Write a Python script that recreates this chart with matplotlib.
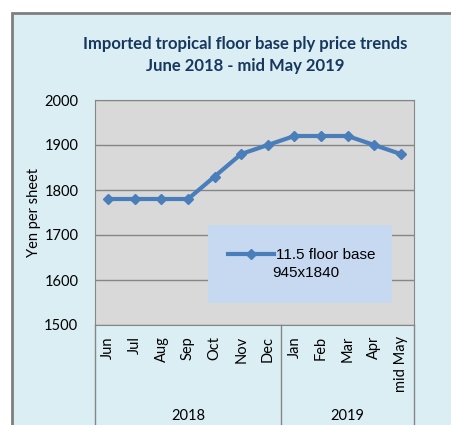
import matplotlib
matplotlib.use("Agg")
from matplotlib import pyplot as plt
from matplotlib.patches import Rectangle
from matplotlib.transforms import blended_transform_factory

plt.rcParams["font.family"] = "Lato"

months = ["Jun", "Jul", "Aug", "Sep", "Oct", "Nov", "Dec",
          "Jan", "Feb", "Mar", "Apr", "mid May"]
years = ["2018", "2019"]
year_groups = [(0, 6), (7, 11)]
prices = [1780, 1780, 1780, 1780, 1830, 1880, 1900, 1920, 1920, 1920, 1900, 1880]

W, H = 451, 425
fig = plt.figure(figsize=(W / 100, H / 100), dpi=100)
fig.patch.set_facecolor("white")

# chart area background + border (runs off the right and bottom edges)
fig.patches.append(Rectangle((12 / W, -0.2), 1.2, 1.2 - 13 / H,
                             transform=fig.transFigure, facecolor="#DAEEF3",
                             edgecolor="#7F7F7F", linewidth=2, zorder=-1))

ax = fig.add_axes([95 / W, 1 - 325 / H, 319 / W, 225 / H])
ax.set_zorder(2)
ax.set_facecolor("#D9D9D9")
x = list(range(len(months)))
ax.plot(x, prices, color="#4A7EBB", linewidth=3, marker="D", markersize=5.5,
        zorder=3, label="11.5 floor base")

ax.set_xlim(-0.5, len(months) - 0.5)
ax.set_ylim(1500, 2000)
ax.set_yticks(range(1500, 2001, 100))
ax.yaxis.grid(True, color="#868686", linewidth=1)
ax.set_axisbelow(True)
for s in ax.spines.values():
    s.set_color("#868686")
ax.tick_params(axis="y", length=0, pad=12, labelsize=10.5)
ax.set_xticks(x)
ax.set_xticklabels(months, rotation=90, va="top", fontsize=10.5)
ax.tick_params(axis="x", length=0, pad=8)
ax.set_ylabel("Yen per sheet", fontsize=10.5, labelpad=2)

# category group separators and year labels
tr = blended_transform_factory(ax.transData, ax.transAxes)
for b in [-0.5, year_groups[0][1] + 0.5, len(months) - 0.5]:
    ax.plot([b, b], [0, -0.5], color="#868686", linewidth=1,
            transform=tr, clip_on=False)
for (a, b), yr in zip(year_groups, years):
    ax.text((a + b) / 2, -0.405, yr, transform=tr, ha="center", va="center",
            fontsize=10.5)

# legend box
ax.add_patch(Rectangle((0.354, 0.098), 0.577, 0.346, transform=ax.transAxes,
                       facecolor="#C6D9F1", edgecolor="none", zorder=4))
leg = ax.legend(loc="center left", bbox_to_anchor=(0.417, 0.311),
                frameon=False, borderpad=0, borderaxespad=0,
                handlelength=3.0, handletextpad=0.15,
                prop={"family": "Liberation Sans", "size": 11})
leg.set_zorder(5)
ax.text(0.555, 0.231, "945x1840", transform=ax.transAxes, ha="left",
        va="center", family="Liberation Sans", fontsize=11, zorder=6)

fig.text(245 / W, 1 - 55 / H,
         "Imported tropical floor base ply price trends\nJune 2018 - mid May 2019",
         ha="center", va="center", fontsize=12, fontweight="bold",
         color="#17375E", linespacing=1.5, zorder=3)

fig.savefig("out.png", dpi=100)
